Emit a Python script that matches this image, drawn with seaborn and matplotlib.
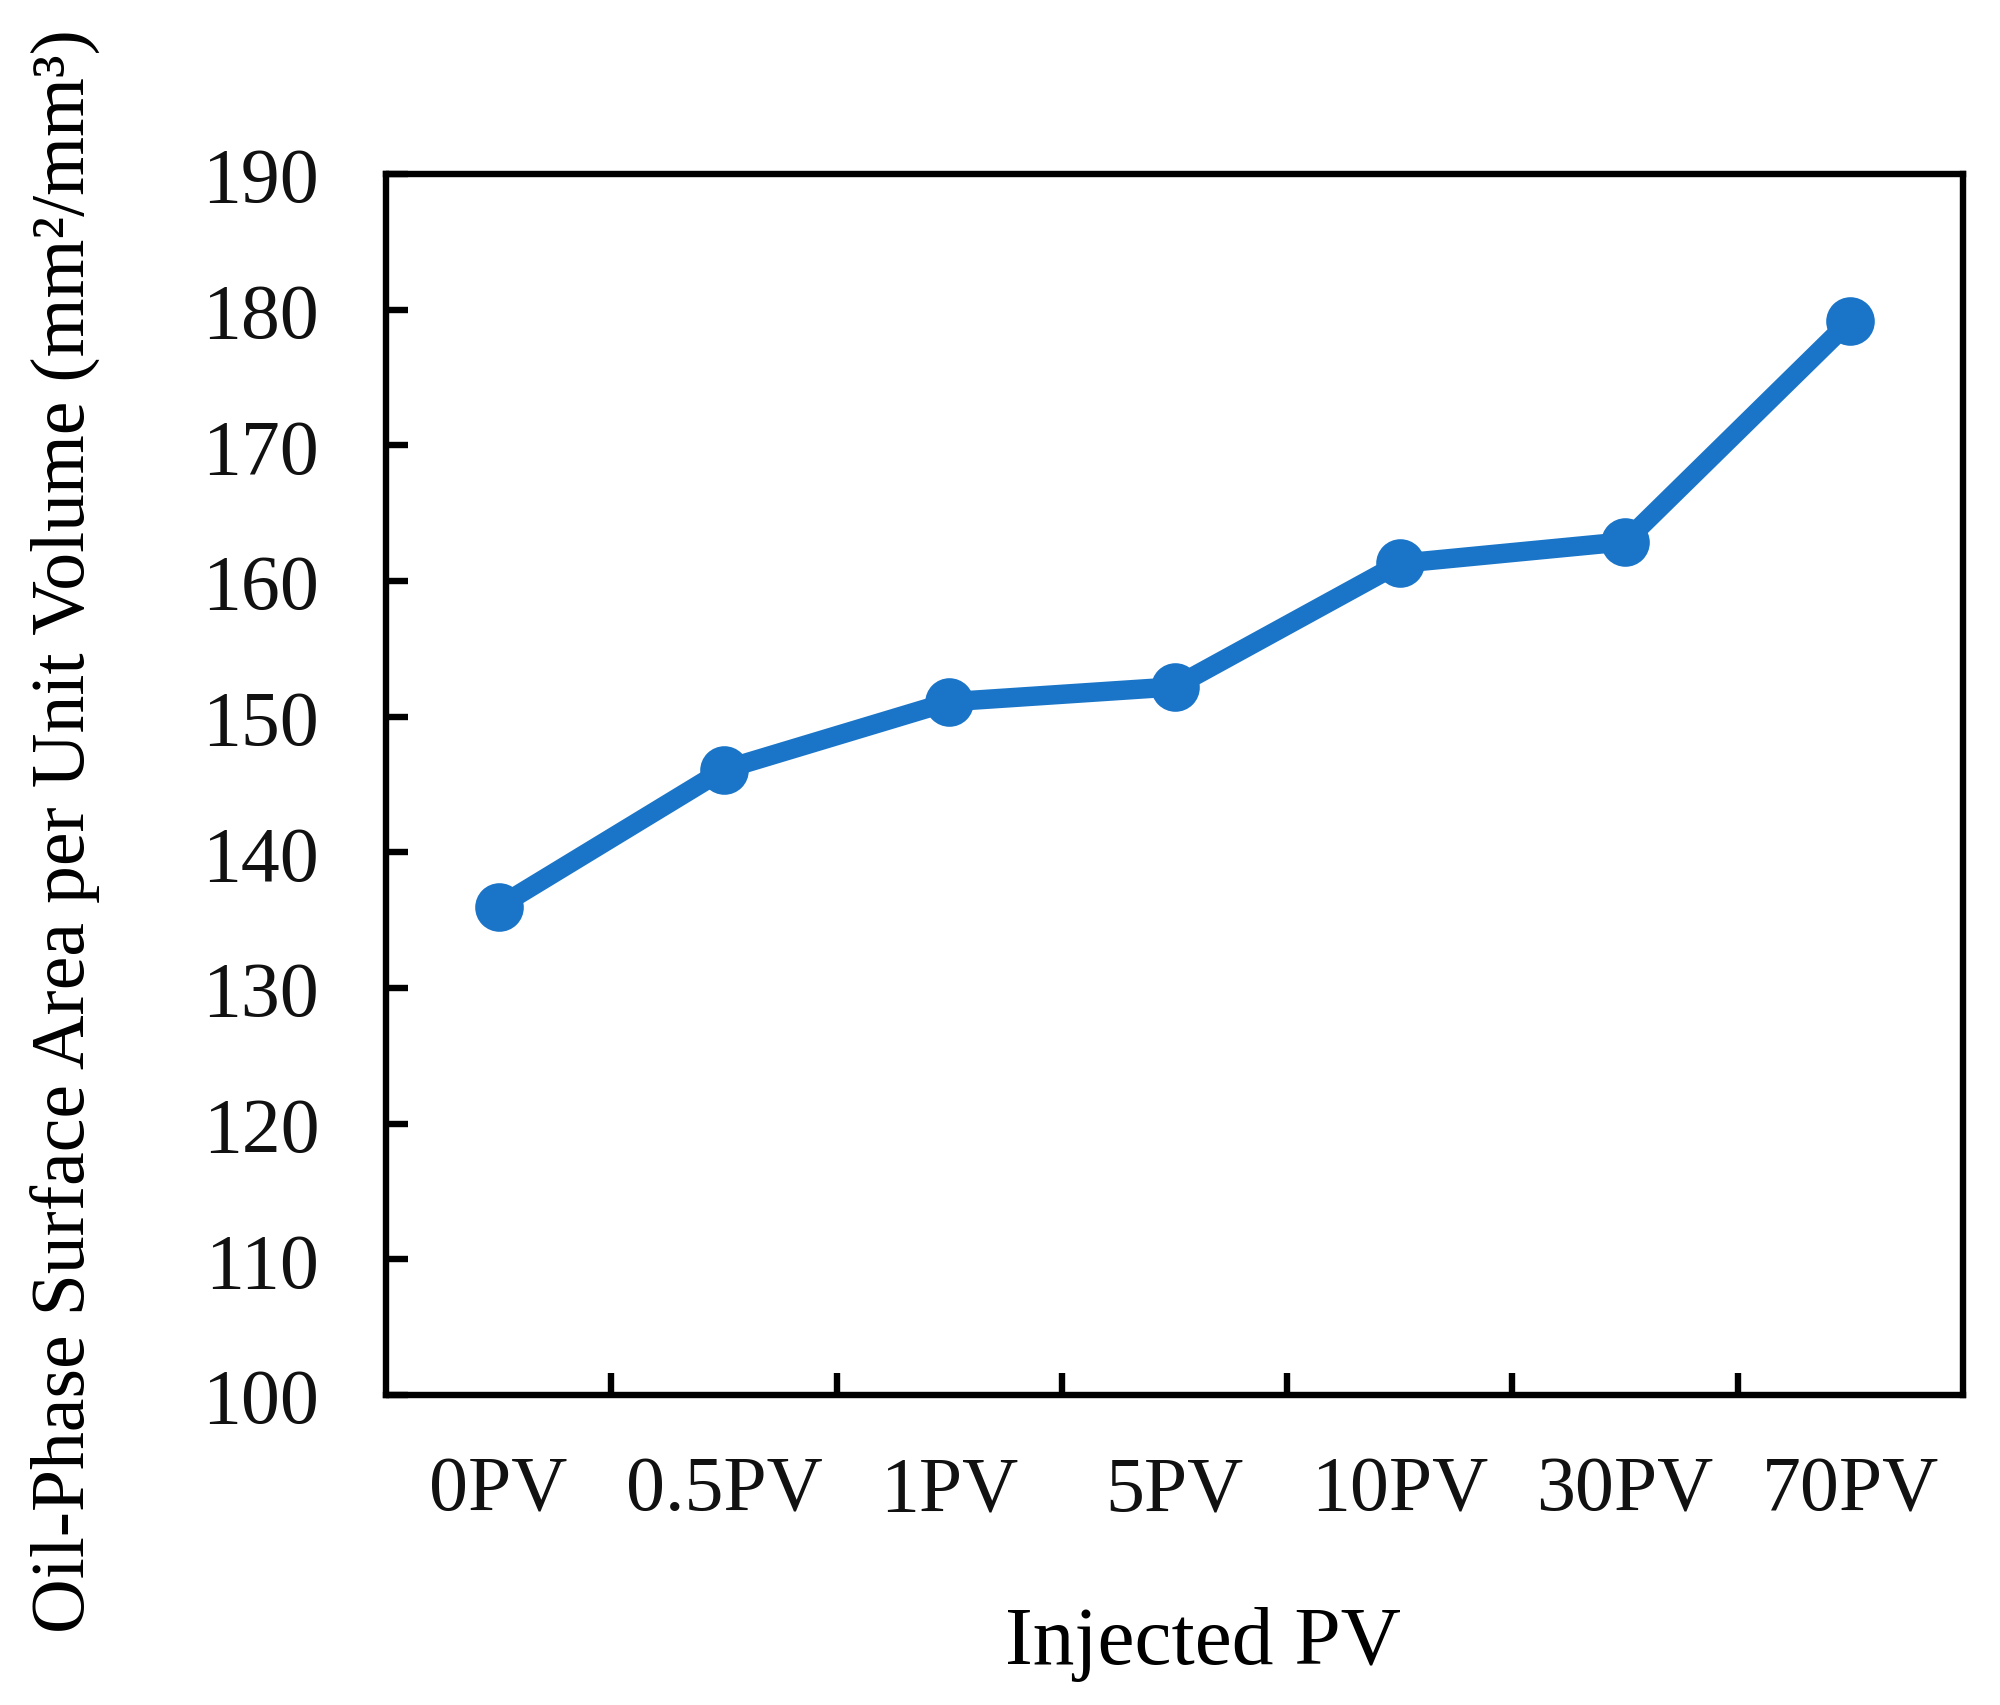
import matplotlib
matplotlib.use("Agg")
import matplotlib.pyplot as plt
import seaborn as sns
import pandas as pd
from matplotlib.ticker import FixedLocator

categories = ["0PV", "0.5PV", "1PV", "5PV", "10PV", "30PV", "70PV"]
values = [136.0, 146.1, 151.1, 152.2, 161.3, 162.9, 179.2]
yticks = [100, 110, 120, 130, 140, 150, 160, 170, 180, 190]

sns.set_theme(style="white")
plt.rcParams['font.family'] = ['Liberation Serif', 'DejaVu Serif']

df = pd.DataFrame({"pv": categories, "val": values})

fig = plt.figure(figsize=(20, 17.06), dpi=100)
ax = fig.add_axes([0.193, 0.1817, 0.7885, 0.7157])

sns.lineplot(data=df, x="pv", y="val", ax=ax, sort=False, color="#1a75c8",
             linewidth=14, marker="o", markersize=35, markeredgewidth=0)

ax.set_xlim(-0.5, len(categories) - 0.5)
ax.set_ylim(100, 190)
ax.set_yticks(yticks)
ax.set_yticklabels([str(t) for t in yticks])
ax.set_xticks(range(len(categories)))
ax.set_xticklabels(categories)
ax.xaxis.set_minor_locator(FixedLocator([i + 0.5 for i in range(len(categories) - 1)]))

for s in ax.spines.values():
    s.set_visible(True)
    s.set_color("black")
    s.set_linewidth(4.6)

ax.tick_params(axis="x", which="major", length=0, pad=43, labelsize=56, colors="#111111")
ax.tick_params(axis="x", which="minor", direction="in", length=16, width=4.6, color="black", bottom=True)
ax.tick_params(axis="y", which="major", direction="in", length=16, width=4.6, color="black",
               left=True, pad=48, labelsize=56, labelcolor="#111111")

ax.set_xlabel("Injected PV", fontsize=60, color="black")
ax.xaxis.set_label_coords(0.518, -0.172)
ax.set_ylabel("")
fig.text(0.033, 0.513, "Oil-Phase Surface Area per Unit Volume (mm²/mm³)", fontsize=54.5,
         color="black", rotation=90, ha="center", va="center")
ax.grid(False)

fig.savefig("out.png", dpi=100, facecolor="white")
